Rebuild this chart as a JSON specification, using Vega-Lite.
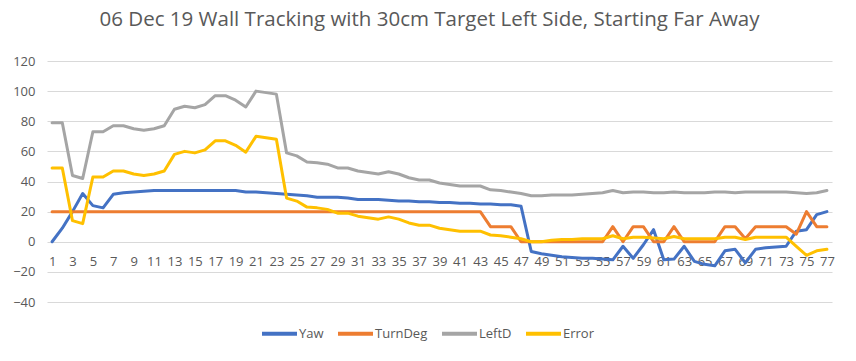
{
  "$schema": "https://vega.github.io/schema/vega-lite/v6.json",
  "width": 785,
  "height": 241,
  "autosize": {"type": "none"},
  "padding": {"left": 47, "top": 61, "right": 24, "bottom": 59},
  "background": "white",
  "config": {
    "view": {"stroke": null},
    "font": "Open Sans"
  },
  "title": {
    "text": "06 Dec 19 Wall Tracking with 30cm Target Left Side, Starting Far Away",
    "font": "Open Sans",
    "fontSize": 20.5,
    "fontWeight": "normal",
    "color": "#595959",
    "anchor": "middle",
    "dx": -10,
    "offset": 25
  },
  "data": {
    "values": [
      {"x": 1, "Yaw": 0, "TurnDeg": 20, "LeftD": 79, "Error": 49},
      {"x": 2, "Yaw": 9, "TurnDeg": 20, "LeftD": 79, "Error": 49},
      {"x": 3, "Yaw": 20, "TurnDeg": 20, "LeftD": 44, "Error": 14},
      {"x": 4, "Yaw": 32, "TurnDeg": 20, "LeftD": 42, "Error": 12},
      {"x": 5, "Yaw": 24, "TurnDeg": 20, "LeftD": 73, "Error": 43},
      {"x": 6, "Yaw": 22.5, "TurnDeg": 20, "LeftD": 73, "Error": 43},
      {"x": 7, "Yaw": 31.5, "TurnDeg": 20, "LeftD": 77, "Error": 47},
      {"x": 8, "Yaw": 32.5, "TurnDeg": 20, "LeftD": 77, "Error": 47},
      {"x": 9, "Yaw": 33, "TurnDeg": 20, "LeftD": 75, "Error": 45},
      {"x": 10, "Yaw": 33.5, "TurnDeg": 20, "LeftD": 74, "Error": 44},
      {"x": 11, "Yaw": 34, "TurnDeg": 20, "LeftD": 75, "Error": 45},
      {"x": 12, "Yaw": 34, "TurnDeg": 20, "LeftD": 77, "Error": 47},
      {"x": 13, "Yaw": 34, "TurnDeg": 20, "LeftD": 88, "Error": 58},
      {"x": 14, "Yaw": 34, "TurnDeg": 20, "LeftD": 90, "Error": 60},
      {"x": 15, "Yaw": 34, "TurnDeg": 20, "LeftD": 89, "Error": 59},
      {"x": 16, "Yaw": 34, "TurnDeg": 20, "LeftD": 91, "Error": 61},
      {"x": 17, "Yaw": 34, "TurnDeg": 20, "LeftD": 97, "Error": 67},
      {"x": 18, "Yaw": 34, "TurnDeg": 20, "LeftD": 97, "Error": 67},
      {"x": 19, "Yaw": 34, "TurnDeg": 20, "LeftD": 94, "Error": 64},
      {"x": 20, "Yaw": 33, "TurnDeg": 20, "LeftD": 89.5, "Error": 59.5},
      {"x": 21, "Yaw": 33, "TurnDeg": 20, "LeftD": 100, "Error": 70},
      {"x": 22, "Yaw": 32.5, "TurnDeg": 20, "LeftD": 99, "Error": 69},
      {"x": 23, "Yaw": 32, "TurnDeg": 20, "LeftD": 98, "Error": 68},
      {"x": 24, "Yaw": 31.5, "TurnDeg": 20, "LeftD": 59, "Error": 29},
      {"x": 25, "Yaw": 31, "TurnDeg": 20, "LeftD": 57, "Error": 27},
      {"x": 26, "Yaw": 30.5, "TurnDeg": 20, "LeftD": 53, "Error": 23},
      {"x": 27, "Yaw": 29.5, "TurnDeg": 20, "LeftD": 52.5, "Error": 22.5},
      {"x": 28, "Yaw": 29.5, "TurnDeg": 20, "LeftD": 51.5, "Error": 21.5},
      {"x": 29, "Yaw": 29.5, "TurnDeg": 20, "LeftD": 49, "Error": 19},
      {"x": 30, "Yaw": 29, "TurnDeg": 20, "LeftD": 49, "Error": 19},
      {"x": 31, "Yaw": 28, "TurnDeg": 20, "LeftD": 47, "Error": 17},
      {"x": 32, "Yaw": 28, "TurnDeg": 20, "LeftD": 46, "Error": 16},
      {"x": 33, "Yaw": 28, "TurnDeg": 20, "LeftD": 45, "Error": 15},
      {"x": 34, "Yaw": 27.5, "TurnDeg": 20, "LeftD": 46.5, "Error": 16.5},
      {"x": 35, "Yaw": 27, "TurnDeg": 20, "LeftD": 45, "Error": 15},
      {"x": 36, "Yaw": 27, "TurnDeg": 20, "LeftD": 42.5, "Error": 12.5},
      {"x": 37, "Yaw": 26.5, "TurnDeg": 20, "LeftD": 41, "Error": 11},
      {"x": 38, "Yaw": 26.5, "TurnDeg": 20, "LeftD": 41, "Error": 11},
      {"x": 39, "Yaw": 26, "TurnDeg": 20, "LeftD": 39, "Error": 9},
      {"x": 40, "Yaw": 26, "TurnDeg": 20, "LeftD": 38, "Error": 8},
      {"x": 41, "Yaw": 25.5, "TurnDeg": 20, "LeftD": 37, "Error": 7},
      {"x": 42, "Yaw": 25.5, "TurnDeg": 20, "LeftD": 37, "Error": 7},
      {"x": 43, "Yaw": 25, "TurnDeg": 20, "LeftD": 37, "Error": 7},
      {"x": 44, "Yaw": 25, "TurnDeg": 10, "LeftD": 34.5, "Error": 4.5},
      {"x": 45, "Yaw": 24.5, "TurnDeg": 10, "LeftD": 34, "Error": 4},
      {"x": 46, "Yaw": 24.5, "TurnDeg": 10, "LeftD": 33, "Error": 3},
      {"x": 47, "Yaw": 23.5, "TurnDeg": 0, "LeftD": 32, "Error": 2},
      {"x": 48, "Yaw": -6.5, "TurnDeg": 0, "LeftD": 30.5, "Error": 0},
      {"x": 49, "Yaw": -8, "TurnDeg": 0, "LeftD": 30.5, "Error": 0},
      {"x": 50, "Yaw": -9, "TurnDeg": 0, "LeftD": 31, "Error": 1},
      {"x": 51, "Yaw": -10, "TurnDeg": 0, "LeftD": 31, "Error": 1.5},
      {"x": 52, "Yaw": -10.5, "TurnDeg": 0, "LeftD": 31, "Error": 1.5},
      {"x": 53, "Yaw": -11, "TurnDeg": 0, "LeftD": 31.5, "Error": 2},
      {"x": 54, "Yaw": -11, "TurnDeg": 0, "LeftD": 32, "Error": 2},
      {"x": 55, "Yaw": -11.5, "TurnDeg": 0, "LeftD": 32.5, "Error": 2},
      {"x": 56, "Yaw": -12, "TurnDeg": 10, "LeftD": 34, "Error": 4},
      {"x": 57, "Yaw": -3, "TurnDeg": 0, "LeftD": 32.5, "Error": 2},
      {"x": 58, "Yaw": -11, "TurnDeg": 10, "LeftD": 33, "Error": 3},
      {"x": 59, "Yaw": -2, "TurnDeg": 10, "LeftD": 33, "Error": 3},
      {"x": 60, "Yaw": 8, "TurnDeg": 0, "LeftD": 32.5, "Error": 2.5},
      {"x": 61, "Yaw": -12, "TurnDeg": 0, "LeftD": 32.5, "Error": 2},
      {"x": 62, "Yaw": -11.5, "TurnDeg": 10, "LeftD": 33, "Error": 3.5},
      {"x": 63, "Yaw": -3, "TurnDeg": 0, "LeftD": 32.5, "Error": 2},
      {"x": 64, "Yaw": -13, "TurnDeg": 0, "LeftD": 32.5, "Error": 2},
      {"x": 65, "Yaw": -15, "TurnDeg": 0, "LeftD": 32.5, "Error": 2},
      {"x": 66, "Yaw": -16, "TurnDeg": 0, "LeftD": 33, "Error": 2},
      {"x": 67, "Yaw": -6, "TurnDeg": 10, "LeftD": 33, "Error": 3},
      {"x": 68, "Yaw": -5, "TurnDeg": 10, "LeftD": 32.5, "Error": 3},
      {"x": 69, "Yaw": -14, "TurnDeg": 2, "LeftD": 33, "Error": 1.5},
      {"x": 70, "Yaw": -5, "TurnDeg": 10, "LeftD": 33, "Error": 3},
      {"x": 71, "Yaw": -4, "TurnDeg": 10, "LeftD": 33, "Error": 3},
      {"x": 72, "Yaw": -3.5, "TurnDeg": 10, "LeftD": 33, "Error": 3},
      {"x": 73, "Yaw": -3, "TurnDeg": 10, "LeftD": 33, "Error": 3},
      {"x": 74, "Yaw": 7, "TurnDeg": 5, "LeftD": 32.5, "Error": -3},
      {"x": 75, "Yaw": 8, "TurnDeg": 20, "LeftD": 32, "Error": -9},
      {"x": 76, "Yaw": 18, "TurnDeg": 10, "LeftD": 32.5, "Error": -6},
      {"x": 77, "Yaw": 20, "TurnDeg": 10, "LeftD": 34, "Error": -5}
    ]
  },
  "transform": [
    {"fold": ["Yaw", "TurnDeg", "LeftD", "Error"], "as": ["series", "value"]}
  ],
  "mark": {"type": "line", "strokeWidth": 3, "strokeCap": "round", "strokeJoin": "round"},
  "encoding": {
    "x": {
      "field": "x",
      "type": "ordinal",
      "scale": {"type": "point", "padding": 0.5},
      "axis": {
        "title": null,
        "values": [1,3,5,7,9,11,13,15,17,19,21,23,25,27,29,31,33,35,37,39,41,43,45,47,49,51,53,55,57,59,61,63,65,67,69,71,73,75,77],
        "labelAngle": 0,
        "offset": -60.25,
        "domain": false,
        "ticks": false,
        "grid": false,
        "labelPadding": 14,
        "labelFont": "Open Sans",
        "labelFontSize": 13,
        "labelColor": "#595959",
        "labelOverlap": false
      }
    },
    "y": {
      "field": "value",
      "type": "quantitative",
      "scale": {"domain": [-40, 120], "nice": false, "zero": false},
      "axis": {
        "title": null,
        "values": [-40, -20, 0, 20, 40, 60, 80, 100, 120],
        "domain": false,
        "ticks": false,
        "grid": true,
        "gridColor": "#d9d9d9",
        "gridWidth": 1,
        "labelPadding": 12,
        "labelFont": "Open Sans",
        "labelFontSize": 13,
        "labelColor": "#595959"
      }
    },
    "color": {
      "field": "series",
      "type": "nominal",
      "scale": {
        "domain": ["Yaw", "TurnDeg", "LeftD", "Error"],
        "range": ["#4472C4", "#ED7D31", "#A5A5A5", "#FFC000"]
      },
      "legend": {
        "title": null,
        "orient": "none",
        "direction": "horizontal",
        "legendX": 213,
        "legendY": 253,
        "symbolType": "stroke",
        "symbolSize": 1225,
        "symbolStrokeWidth": 4,
        "labelFont": "Open Sans",
        "labelFontSize": 13,
        "labelColor": "#595959",
        "labelOffset": 0,
        "columnPadding": 6
      }
    }
  }
}
